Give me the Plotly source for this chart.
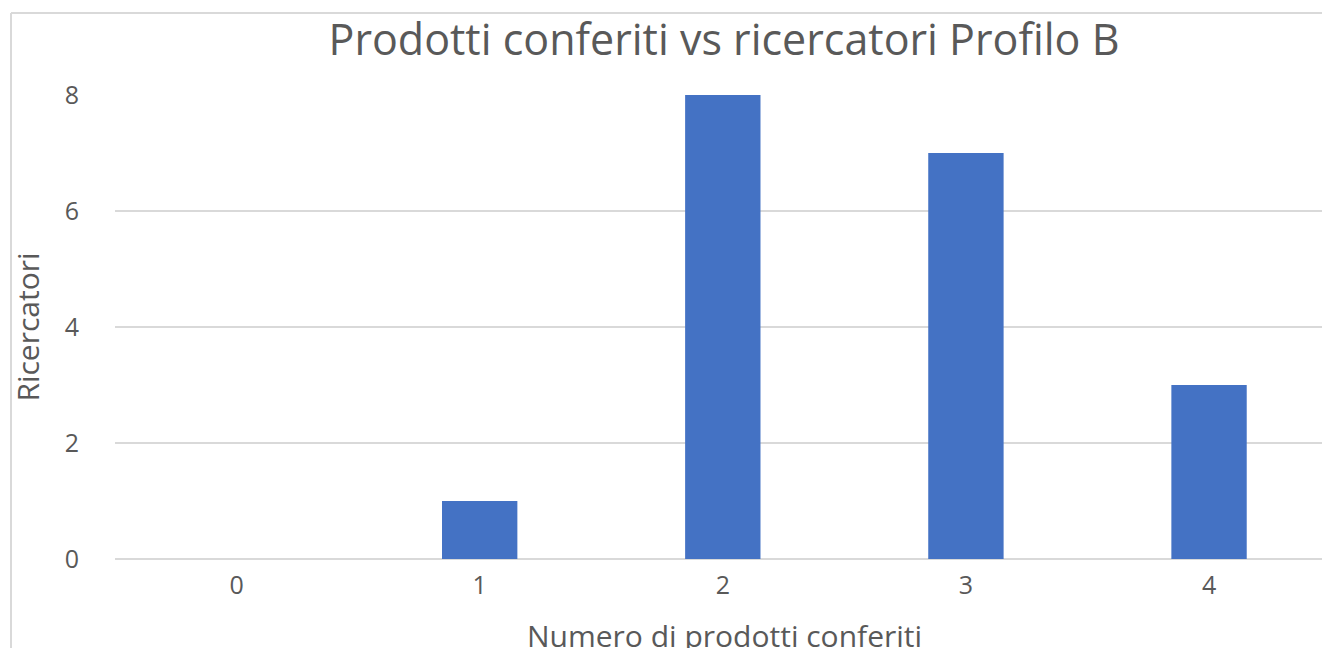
import plotly.graph_objects as go

categories = ["0", "1", "2", "3", "4"]
values = [0, 1, 8, 7, 3]
y_ticks = [0, 2, 4, 6, 8]

title_text = "Prodotti conferiti vs ricercatori Profilo B"
x_title = "Numero di prodotti conferiti"
y_title = "Ricercatori"

font_family = "Open Sans, Liberation Sans, sans-serif"
text_color = "#595959"
grid_color = "#d9d9d9"

W, H = 1322, 648
L, R, T, B = 115, 0, 95, 89
PW, PH = W - L - R, H - T - B

fig = go.Figure(
    go.Bar(
        x=categories,
        y=values,
        marker=dict(color="#4472C4", line=dict(width=0)),
        width=0.31,
    )
)

fig.update_layout(
    width=W,
    height=H,
    paper_bgcolor="white",
    plot_bgcolor="white",
    margin=dict(l=L, r=R, t=T, b=B, autoexpand=False),
    showlegend=False,
    title=dict(
        text=title_text,
        x=724 / W,
        xanchor="center",
        y=1 - 40 / H,
        yanchor="middle",
        font=dict(family=font_family, size=43, color=text_color),
    ),
    font=dict(family=font_family, color=text_color),
    shapes=[
        dict(type="line", xref="paper", yref="paper",
             x0=(11 - L) / PW, x1=1.0, y0=1 + (T - 13) / PH, y1=1 + (T - 13) / PH,
             line=dict(color=grid_color, width=2)),
        dict(type="line", xref="paper", yref="paper",
             x0=(11 - L) / PW, x1=(11 - L) / PW, y0=-B / PH, y1=1 + (T - 13) / PH,
             line=dict(color=grid_color, width=2)),
    ],
    annotations=[
        dict(
            text=x_title,
            xref="paper", yref="paper",
            x=(724 - L) / PW, y=-(635 - T - PH) / PH,
            xanchor="center", yanchor="middle",
            showarrow=False,
            font=dict(family=font_family, size=30, color=text_color),
        )
    ],
)

fig.update_xaxes(
    type="category",
    range=[-0.5, 4.4646],
    automargin=False,
    showgrid=False,
    showline=False,
    ticks="",
    ticklabelstandoff=9,
    tickfont=dict(size=25, color=text_color),
)

fig.update_yaxes(
    range=[0, 8],
    tickvals=y_ticks,
    automargin=False,
    showgrid=True,
    gridcolor=grid_color,
    gridwidth=2,
    zeroline=True,
    zerolinecolor=grid_color,
    zerolinewidth=2,
    showline=False,
    ticks="",
    ticklabelstandoff=35,
    tickfont=dict(size=25, color=text_color),
    title=dict(text=y_title, font=dict(size=30, color=text_color), standoff=16),
)

fig.write_html(
    "out.html",
    config={"displayModeBar": False},
    post_script=(
        "document.documentElement.style.overflow='hidden';"
        "document.body.style.overflow='hidden';"
        "document.body.style.margin='0';"
    ),
)
